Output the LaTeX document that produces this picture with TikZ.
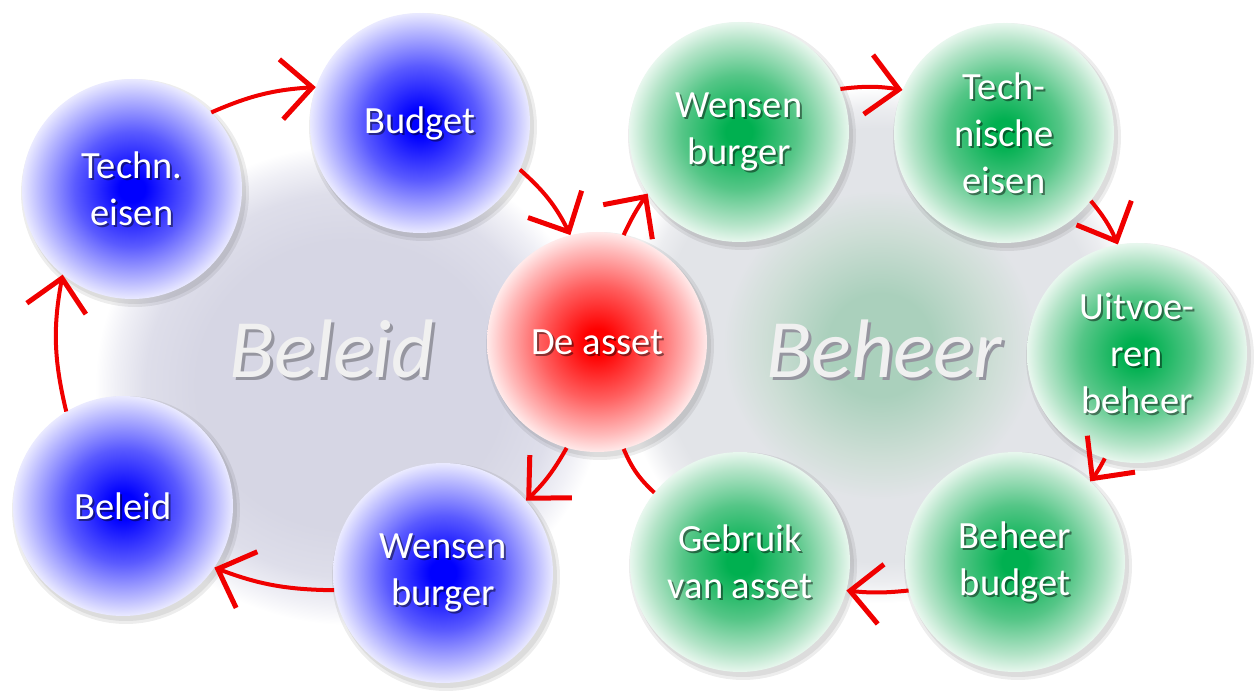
\documentclass[tikz,border=0pt]{standalone}
\usepackage{fontspec}
\setmainfont{Carlito}
\usetikzlibrary{arrows.meta}
\definecolor{bC}{RGB}{0,0,255}
\definecolor{bM}{RGB}{90,90,255}
\definecolor{bL}{RGB}{185,185,255}
\definecolor{bE}{RGB}{234,234,255}
\definecolor{gC}{RGB}{0,176,80}
\definecolor{gM}{RGB}{85,198,135}
\definecolor{gL}{RGB}{180,228,200}
\definecolor{gE}{RGB}{232,247,238}
\definecolor{rC}{RGB}{255,0,0}
\definecolor{rM}{RGB}{255,95,95}
\definecolor{rL}{RGB}{255,185,185}
\definecolor{rE}{RGB}{255,234,234}
\definecolor{lavA}{RGB}{214,214,228}
\definecolor{lavB}{RGB}{222,222,234}
\definecolor{lavC}{RGB}{240,240,246}
\definecolor{grA}{RGB}{170,208,188}
\definecolor{grB}{RGB}{206,222,214}
\definecolor{grC}{RGB}{226,228,232}
\definecolor{grD}{RGB}{236,237,240}
\definecolor{arr}{RGB}{240,0,0}
\definecolor{bigtxt}{RGB}{240,240,240}
\definecolor{bigsh}{RGB}{150,150,160}
\pgfdeclareradialshading{sphB}{\pgfpointorigin}{color(0bp)=(bC); color(3bp)=(bC); color(13bp)=(bM); color(21bp)=(bL); color(25bp)=(bE); color(50bp)=(bE)}
\pgfdeclareradialshading{sphG}{\pgfpointorigin}{color(0bp)=(gC); color(3bp)=(gC); color(13bp)=(gM); color(21bp)=(gL); color(25bp)=(gE); color(50bp)=(gE)}
\pgfdeclareradialshading{sphR}{\pgfpointorigin}{color(0bp)=(rC); color(3bp)=(rC); color(13bp)=(rM); color(21bp)=(rL); color(25bp)=(rE); color(50bp)=(rE)}
\pgfdeclareradialshading{glowL}{\pgfpointorigin}{color(0bp)=(lavA); color(15bp)=(lavA); color(20bp)=(lavB); color(23bp)=(lavC); color(25bp)=(white); color(50bp)=(white)}
\pgfdeclareradialshading{glowR}{\pgfpointorigin}{color(0bp)=(grA); color(5bp)=(grA); color(11bp)=(grB); color(15bp)=(grC); color(21bp)=(grC); color(23bp)=(grD); color(25bp)=(white); color(50bp)=(white)}
\tikzset{
  bub/.style={circle, minimum size=220pt, inner sep=0pt, shade, shading=#1},
  txt/.style={text=white, font=\fontsize{38.5}{47}\selectfont, align=center, inner sep=0pt},
  tsh/.style={text=black, opacity=.45, font=\fontsize{38.5}{47}\selectfont, align=center, inner sep=0pt},
  big/.style={text=bigtxt, font=\fontsize{83}{90}\selectfont\itshape, inner sep=0pt, anchor=base},
  conn/.style={draw=arr, line width=4pt, -{Straight Barb[length=31pt,width=60pt,line width=5pt]}},
  connplain/.style={draw=arr, line width=4pt},
}
\newcommand\bubble[5]{%
  \fill[black,opacity=.07] (#2+3,699-#3-4) circle[radius=114pt];
  \fill[black,opacity=.07] (#2+3,699-#3-4) circle[radius=111pt];
  \node[bub=#4] (#1) at (#2,699-#3) {};
  \node[tsh] at (#2+2,699-#3-2) {#5};
  \node[txt] at (#1) {#5};
}
\newcommand\shadowed[1]{\makebox[0pt][l]{\kern3pt\raisebox{-3pt}{\textcolor{bigsh}{#1}}}#1}
\begin{document}
\begin{tikzpicture}[x=1pt,y=1pt]
\useasboundingbox (0,0) rectangle (1254,699);
\fill[white] (0,0) rectangle (1254,699);
\shade[shading=glowL] (350,699-385) ellipse[x radius=255pt,y radius=240pt];
\shade[shading=glowR] (880,699-345) ellipse[x radius=262pt,y radius=258pt];
\node[big] (lblL) at (332,699-378) {\shadowed{Beleid}};
\node[big] (lblR) at (884,699-378) {\shadowed{Beheer}};
\bubble{techn}{132}{189}{sphB}{Techn.\\eisen}
\bubble{budget}{420}{123}{sphB}{Budget}
\bubble{beleid}{123}{506}{sphB}{Beleid}
\bubble{wensenL}{443}{573}{sphB}{Wensen\\burger}
\bubble{asset}{597}{342}{sphR}{De asset}
\bubble{wensenR}{739}{132}{sphG}{Wensen\\burger}
\bubble{technR}{1004}{133}{sphG}{Tech-\\nische\\eisen}
\bubble{uitv}{1137}{353}{sphG}{Uitvoe-\\ren\\beheer}
\bubble{bbudget}{1015}{562}{sphG}{Beheer\\budget}
\bubble{gebruik}{740}{562}{sphG}{Gebruik\\van asset}
\draw[conn] (techn.44) to[bend left=10] (budget.161);
\draw[conn] (budget.-25) to[bend left=11] (asset.104);
\draw[conn] (asset.254) to[bend left=8] (wensenL.41);
\draw[conn] (wensenL.189) to[bend left=10] (beleid.-34);
\draw[conn] (beleid.121) to[bend left=12] (techn.231);
\draw[conn] (asset.76) to[bend left=5] (wensenR.214);
\draw[conn] (wensenR.23) to[bend left=8] (technR.157);
\draw[conn] (technR.-38) to[bend left=8] (uitv.100);
\draw[conn] (uitv.253) to[bend left=5] (bbudget.47);
\draw[conn] (bbudget.195) to[bend left=6] (gebruik.-15);
\draw[connplain] (gebruik.141) to[bend left=12] (asset.-76);
\end{tikzpicture}
\end{document}
